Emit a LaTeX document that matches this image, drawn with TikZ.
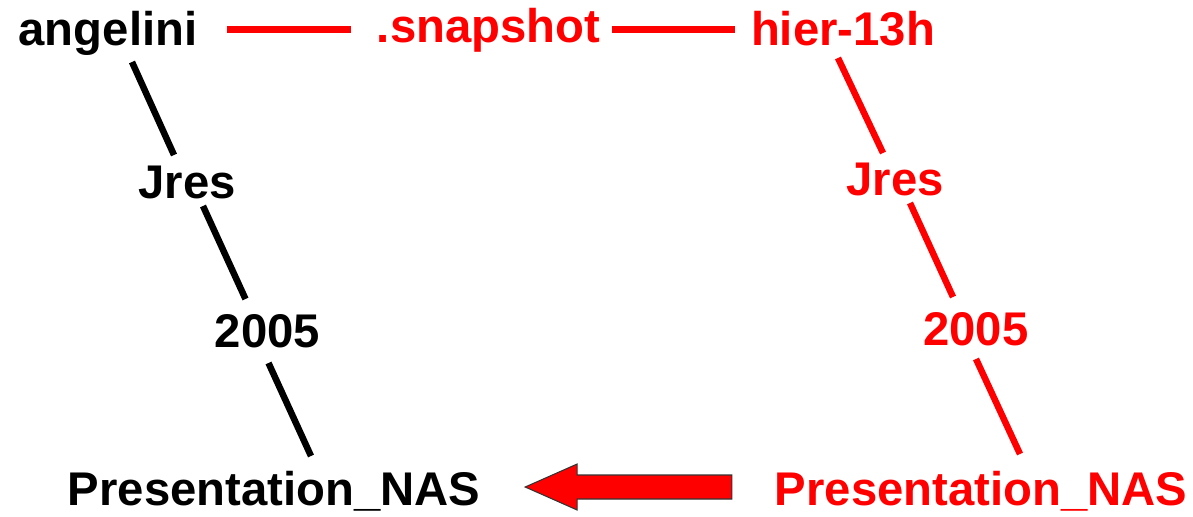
\documentclass[tikz,border=0pt]{standalone}
\usepackage{fontspec}
\setmainfont{Liberation Sans}
\usetikzlibrary{calc}
\definecolor{pred}{RGB}{255,0,0}
\begin{document}
\begin{tikzpicture}[x=0.02cm,y=-0.02cm,
  lbl/.style={inner sep=0pt,outer sep=0pt,anchor=base,font=\fontsize{26.9}{30}\selectfont\bfseries},
  blk/.style={lbl,text=black},
  rd/.style={lbl,text=pred},
  blink/.style={draw=black,line width=3.7pt},
  rlink/.style={draw=pred,line width=3.7pt},
  hlink/.style={draw=pred,line width=4.2pt},
  bigarrow/.style={fill=pred,draw=black!80,line width=0.6pt}]
\useasboundingbox (0,0) rectangle (1193,517);
% left (black) chain
\node[blk] (angelini) at (108,46) {angelini};
\node[blk] (jresB) at (187,198) {Jres};
\node[blk] (yearB) at (267.5,347) {2005};
\node[blk] (presB) at (274,505) {Presentation\_NAS};
% top and right (red) chain
\node[rd] (snap) at (488.5,43) {.snapshot};
\node[rd] (hier) at (843,46) {hier-13h};
\node[rd] (jresR) at (895,195) {Jres};
\node[rd] (yearR) at (976,345) {2005};
\node[rd] (presR) at (981,505) {Presentation\_NAS};
% black connectors
\draw[blink] ([shift={(24,16)}]angelini.base) -- ([shift={(-13,-43)}]jresB.base);
\draw[blink] ([shift={(16,8)}]jresB.base) -- ([shift={(-22,-48)}]yearB.base);
\draw[blink] ([shift={(1,16)}]yearB.base) -- ([shift={(37,-49)}]presB.base);
% red connectors
\draw[hlink] ([shift={(119,-16.5)}]angelini.base) -- ([shift={(-137.5,-13.5)}]snap.base);
\draw[hlink] ([shift={(123.5,-13.5)}]snap.base) -- ([shift={(-108,-16.5)}]hier.base);
\draw[rlink] ([shift={(-5,12)}]hier.base) -- ([shift={(-12,-42)}]jresR.base);
\draw[rlink] ([shift={(15,8)}]jresR.base) -- ([shift={(-23,-48)}]yearR.base);
\draw[rlink] ([shift={(0,14)}]yearR.base) -- ([shift={(39,-51)}]presR.base);
% block arrow from red to black Presentation_NAS
\coordinate (tipA) at ([shift={(45,-18)}]presB.base east);
\coordinate (tailA) at ([shift={(-43,-18)}]presR.base west);
\draw[bigarrow] (tipA) -- ++(52,-23) -- ++(0,11) -- ($(tailA)+(0,-12)$)
  -- ($(tailA)+(0,12)$) -- ($(tipA)+(52,12)$) -- ++(0,11) -- cycle;
\end{tikzpicture}
\end{document}
